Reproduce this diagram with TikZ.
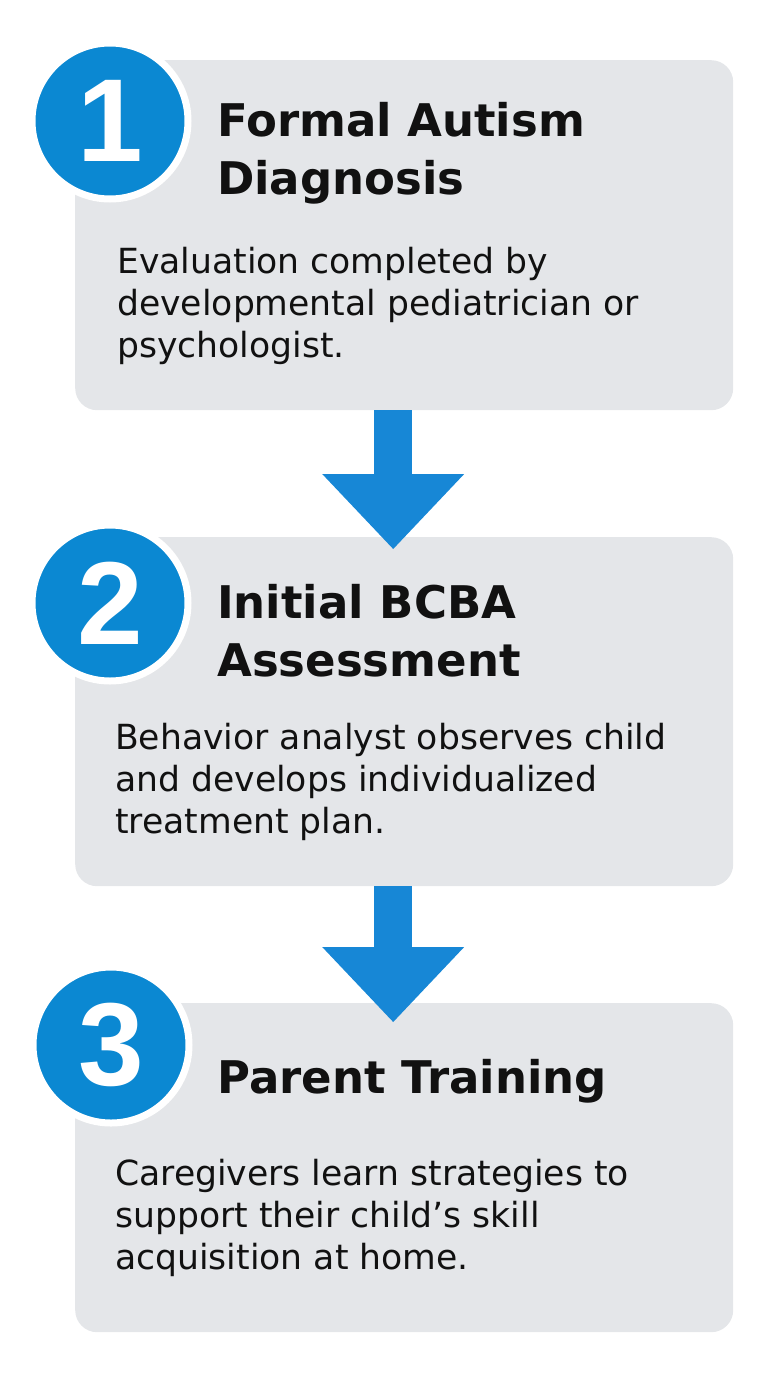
\documentclass[tikz,border=0pt]{standalone}
\usepackage{fontspec}
\setmainfont{DejaVu Sans}
\newfontfamily\numfont{Liberation Sans}
\usepackage{tikz}
\usetikzlibrary{arrows.meta,positioning}
\definecolor{stepblue}{HTML}{0B88D2}
\definecolor{arrowblue}{HTML}{1787D6}
\definecolor{cardgrey}{HTML}{E4E6E9}
\definecolor{inkblack}{HTML}{111111}

\tikzset{
  stepbox/.style={fill=cardgrey, rounded corners=22pt, minimum width=658pt, anchor=north west, inner sep=0pt},
  numdot/.style={circle, fill=stepblue, draw=white, line width=7pt, minimum size=156pt, inner sep=0pt,
    text=white, font=\numfont\fontsize{118}{118}\selectfont\bfseries},
  steptitle/.style={anchor=north west, inner sep=0pt, align=left, text=inkblack,
    font=\fontsize{45}{58}\selectfont\bfseries},
  stepbody/.style={anchor=north west, inner sep=0pt, align=left, text=inkblack,
    font=\fontsize{34.6}{42}\selectfont},
  flow/.style={draw=arrowblue, line width=38pt, -{Triangle[width=142pt,length=75pt,line width=0pt]}}
}

\begin{document}
\begin{tikzpicture}[x=1pt,y=-1pt]
  \useasboundingbox (0,0) rectangle (768,1376);
  % cards
  \node[stepbox, minimum height=350pt] (box1) at (75,60) {};
  \node[stepbox, minimum height=349pt] (box2) at (75,537) {};
  \node[stepbox, minimum height=329pt] (box3) at (75,1003) {};
  % arrows
  \draw[flow] ([xshift=-11pt]box1.south) -- ([xshift=-11pt,yshift=-12pt]box2.north);
  \draw[flow] ([xshift=-11pt]box2.south) -- ([xshift=-11pt,yshift=-19pt]box3.north);
  % step numbers
  \node[numdot] (n1) at (110,121) {1};
  \node[numdot] (n2) at (110,603) {2};
  \node[numdot] (n3) at (111,1045) {3};
  % titles and text
  \node[steptitle] (t1) at (217,102) {Formal Autism\\Diagnosis};
  \node[stepbody] (d1) at (117,247) {Evaluation completed by\\developmental pediatrician or\\psychologist.};
  \node[steptitle] (t2) at (217,584) {Initial BCBA\\Assessment};
  \node[stepbody] (d2) at (115,723) {Behavior analyst observes child\\and develops individualized\\treatment plan.};
  \node[steptitle] (t3) at (217,1059) {Parent Training};
  \node[stepbody] (d3) at (115,1159) {Caregivers learn strategies to\\support their child’s skill\\acquisition at home.};
\end{tikzpicture}
\end{document}
